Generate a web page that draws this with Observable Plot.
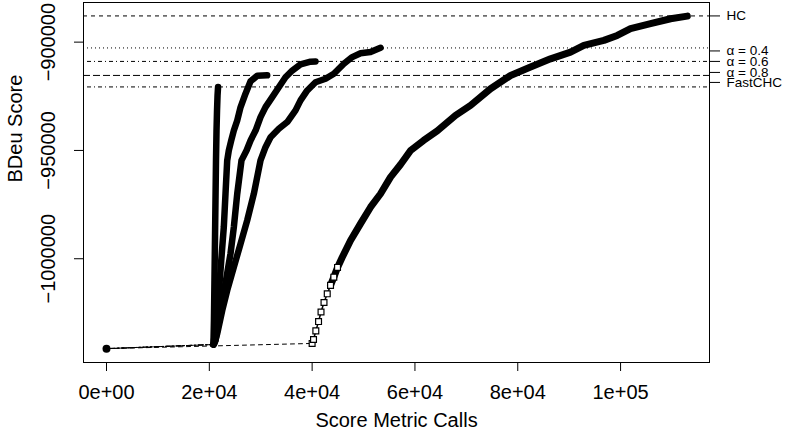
<!DOCTYPE html>
<html><head><meta charset="utf-8">
<script src="https://cdn.jsdelivr.net/npm/d3@7"></script>
<script src="https://cdn.jsdelivr.net/npm/@observablehq/plot@0.6"></script>
<style>body{margin:0;background:#fff;} svg{display:block}</style>
</head><body><div id="chart"></div>
<script>
// ---- data ----
const startCalls = 0;
const startScore = -1041500;

const fastchcCalls  = [20800, 20900, 21000, 21100, 21200, 21300, 21400, 21500, 21600, 21700];
const fastchcScores = [-1039600, -1028500, -1010000, -991600, -973100, -954600, -940800, -931500, -924600, -920700];

const a08Calls  = [20800, 21400, 21850, 22320, 22820, 23150, 23480, 23790, 24260, 24770, 25430, 26070, 27040, 28020, 29320, 31260];
const a08Scores = [-1039600, -1028500, -1016000, -1000800, -985400, -969900, -954600, -950000, -945400, -940800, -936200, -930100, -923800, -918100, -915500, -915300];

const a06Calls  = [20800, 21210, 21850, 22510, 23350, 24120, 24770, 25430, 26260, 27240, 28020, 29000, 29960, 30930, 32240, 33520, 34820, 36130, 37740, 39690, 40660];
const a06Scores = [-1039600, -1037700, -1028500, -1019300, -1008500, -997700, -985400, -970000, -954600, -950000, -945400, -940800, -934600, -930000, -925400, -920800, -916200, -913100, -910300, -909000, -908900];

const a04Calls  = [20800, 21000, 21540, 22510, 23480, 24770, 26070, 27370, 28660, 29960, 30930, 31910, 33520, 35160, 36770, 37740, 39050, 40660, 42610, 44220, 46170, 47800, 49420, 51360, 53310];
const a04Scores = [-1039600, -1039100, -1034600, -1023900, -1014600, -1003900, -993100, -982300, -970000, -954600, -948500, -943900, -940000, -936900, -931500, -926900, -922300, -918500, -916900, -914600, -910000, -906900, -905100, -904600, -902600];

const hcCalls  = [40000, 40270, 40720, 41250, 41730, 42310, 42940, 43580, 44220, 44940, 45860, 47470, 49420, 51360, 53310, 55250, 57200, 59150, 61680, 64340, 67900, 70820, 74710, 78600, 82490, 86380, 90270, 92860, 96750, 99360, 101940, 105830, 109730, 112980];
const hcScores = [-1039100, -1037300, -1033300, -1029000, -1024600, -1020200, -1016200, -1012300, -1008500, -1004000, -999300, -991600, -983800, -976200, -970000, -962300, -956500, -950000, -945400, -941000, -933800, -929200, -921500, -915400, -911500, -907700, -904600, -901500, -899200, -896900, -893800, -891500, -889200, -888000];

const refNames  = ["HC", "α = 0.4", "α = 0.6", "α = 0.8", "FastCHC"];
const refScores = [-887900, -902680, -908900, -915370, -920680];

const xTicks = [0, 20000, 40000, 60000, 80000, 100000];
const xTickLabels = ["0e+00", "2e+04", "4e+04", "6e+04", "8e+04", "1e+05"];
const yTicks = [-900000, -950000, -1000000];
const yTickLabels = ["\u2212900000", "\u2212950000", "\u22121000000"];

// ---- styles / layout ----
const FONT = "'Liberation Sans', Arial, Helvetica, sans-serif";
const dashes = {"HC": "4,4", "α = 0.4": "1,3", "α = 0.6": "1,3,4,3", "α = 0.8": "7,3", "FastCHC": "1,3,4,3"};
const labelShift = [0, 3, 0, -3, -4.5];
const xDomain = [-4475, 117300];
const yDomain = [-1047900, -881700];
const hcSquaresUpTo = 10;  // open-square markers visible on the sparse start of HC
const hcThickFrom = 7;

const series = [
  {name: "FastCHC", calls: fastchcCalls, scores: fastchcScores},
  {name: "α = 0.8", calls: a08Calls, scores: a08Scores},
  {name: "α = 0.6", calls: a06Calls, scores: a06Scores},
  {name: "α = 0.4", calls: a04Calls, scores: a04Scores},
  {name: "HC", calls: hcCalls, scores: hcScores}
];
const pts = s => s.calls.map((c, i) => ({x: c, y: s.scores[i], i}));

const marks = [];
// reference lines
refScores.forEach((v, i) => {
  marks.push(Plot.ruleY([v], {stroke: "black", strokeWidth: 1, strokeDasharray: dashes[refNames[i]]}));
});
// connections from the start point
series.forEach(s => {
  const p = pts(s);
  marks.push(Plot.line([{x: startCalls, y: startScore}, p[0]], {x: "x", y: "y", stroke: "black", strokeWidth: 1, strokeDasharray: dashes[s.name]}));
});
// bodies
series.forEach(s => {
  const p = pts(s);
  if (s.name === "HC") {
    marks.push(Plot.line(p.slice(0, hcSquaresUpTo + 1), {x: "x", y: "y", stroke: "black", strokeWidth: 1.5}));
    marks.push(Plot.line(p.slice(hcThickFrom), {x: "x", y: "y", stroke: "black", strokeWidth: 7, strokeLinejoin: "round", strokeLinecap: "round"}));
    marks.push(Plot.dot(p.slice(0, hcSquaresUpTo), {x: "x", y: "y", symbol: "square", r: 3.3, fill: "white", stroke: "black", strokeWidth: 1.2}));
  } else {
    marks.push(Plot.line(p, {x: "x", y: "y", stroke: "black", strokeWidth: 6.5, strokeLinejoin: "round", strokeLinecap: "round"}));
  }
});
marks.push(Plot.dot([{x: startCalls, y: startScore}], {x: "x", y: "y", r: 4, fill: "black"}));
marks.push(Plot.frame({stroke: "black", strokeWidth: 1}));

// axes
marks.push(Plot.axisX(xTicks, {anchor: "bottom", tickSize: 9, tickPadding: 13, fontSize: 20, label: null,
  tickFormat: d => xTickLabels[xTicks.indexOf(d)]}));
marks.push(Plot.axisY(yTicks, {anchor: "left", tickSize: 9, tickFormat: () => "", label: null}));
marks.push(Plot.text(yTicks, {y: d => d, frameAnchor: "left", dx: -35, rotate: -90, fontSize: 20, textAnchor: "middle",
  text: d => yTickLabels[yTicks.indexOf(d)]}));
refScores.forEach((v, i) => {
  marks.push(Plot.axisY([v], {anchor: "right", tickSize: 10, tickPadding: 7, fontSize: 13.5, label: null, dy: labelShift[i],
    tickFormat: () => refNames[i]}));
});
marks.push(Plot.text(["Score Metric Calls"], {frameAnchor: "bottom", dy: 64, fontSize: 20, text: d => d}));
marks.push(Plot.text(["BDeu Score"], {frameAnchor: "left", dx: -68, rotate: -90, fontSize: 20, text: d => d}));

const chart = Plot.plot({
  width: 786, height: 439,
  marginLeft: 83, marginRight: 77, marginTop: 2, marginBottom: 77,
  style: {fontFamily: FONT, background: "white", color: "black"},
  x: {domain: xDomain},
  y: {domain: yDomain},
  marks
});
document.getElementById("chart").appendChild(chart);
</script>
</body></html>
